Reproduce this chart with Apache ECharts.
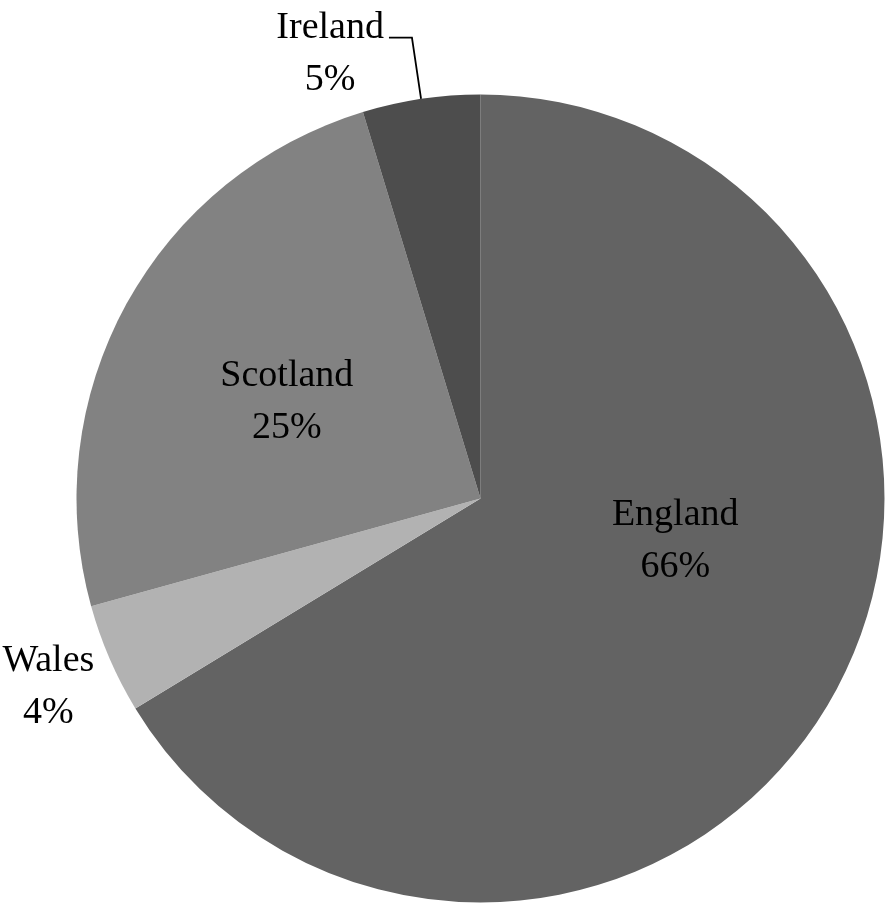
<!DOCTYPE html>
<html>
<head>
<meta charset="utf-8">
<style>
  html, body { margin: 0; padding: 0; background: #fff; }
  #chart { width: 888px; height: 904px; }
</style>
<script src="https://cdn.jsdelivr.net/npm/echarts@6/dist/echarts.min.js"></script>
</head>
<body>
<div id="chart"></div>
<script>
// shares of the whole, clockwise from 12 o'clock
const regions = ['England', 'Wales', 'Scotland', 'Ireland'];
const shares = [66.3, 4.4, 24.6, 4.7];
const sliceColors = ['#636363', '#b2b2b2', '#828282', '#4d4d4d'];

// nudges for the inside labels (Excel "best fit" places them off the mid radius)
const labelShift = [[16, -58], [-244, 107], [-14, 2], null];

const chart = echarts.init(document.getElementById('chart'));

const data = regions.map((name, i) => {
  const item = { name: name, value: shares[i], itemStyle: { color: sliceColors[i] } };
  if (name === 'Ireland') {
    // extra top padding lowers the text so the leader line meets the first line
    item.label = { position: 'outside', padding: [33, 0, 0, 0], distanceToLabelLine: 5 };
    item.labelLine = {
      show: true,
      length: 62,
      length2: 23,
      smooth: false,
      lineStyle: { color: '#000', width: 1.8 }
    };
  }
  return item;
});

chart.setOption({
  animation: false,
  series: [
    {
      type: 'pie',
      center: [480.5, 498.5],
      radius: 404,
      startAngle: 90,
      clockwise: true,
      avoidLabelOverlap: false,
      percentPrecision: 0,
      itemStyle: { borderWidth: 0 },
      emphasis: { disabled: true },
      label: {
        show: true,
        position: 'inside',
        formatter: p => '{t|' + p.name + '}\n{t|' + p.percent + '%}',
        rich: {
          t: {
            fontFamily: 'Liberation Serif',
            fontSize: 38,
            lineHeight: 52,
            color: '#000',
            align: 'center'
          }
        }
      },
      labelLine: { show: false },
      labelLayout: p => {
        const s = labelShift[p.dataIndex];
        return s ? { dx: s[0], dy: s[1] } : {};
      },
      data: data
    }
  ]
});
</script>
</body>
</html>
